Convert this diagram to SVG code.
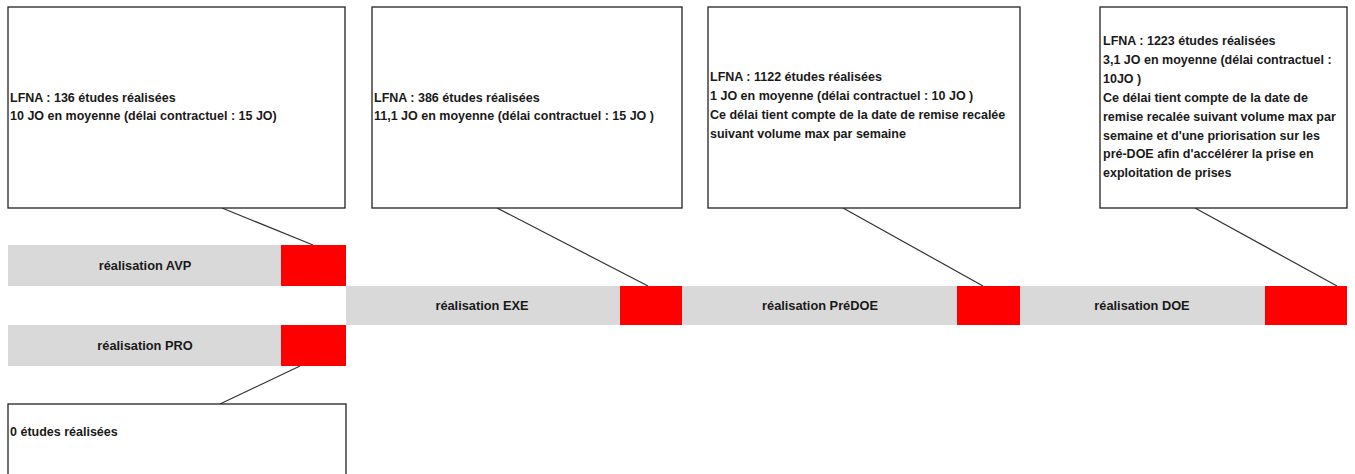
<svg xmlns="http://www.w3.org/2000/svg" width="1355" height="474" viewBox="0 0 1355 474">
<style>
.box{fill:#fff;stroke:#222;stroke-width:1.3}
.t{font-family:"Liberation Sans",Arial,sans-serif;font-size:12.5px;font-weight:bold;fill:#1a1a1a}
.bl{font-family:"Liberation Sans",Arial,sans-serif;font-size:12.8px;font-weight:bold;fill:#1a1a1a;text-anchor:middle}
.g{fill:#d9d9d9}
.r{fill:#ff0000}
.c{stroke:#333;stroke-width:1.2;fill:none}
</style>
<rect width="1355" height="474" fill="#fff"/>
<g id="connectors">
<line class="c" x1="222" y1="208" x2="313" y2="245"/>
<line class="c" x1="497" y1="208" x2="648" y2="286"/>
<line class="c" x1="843" y1="208" x2="983" y2="286"/>
<line class="c" x1="1195" y1="208" x2="1337" y2="286"/>
<line class="c" x1="300" y1="366" x2="220" y2="404"/>
</g>
<g id="bar-avp">
<rect class="g" x="8" y="245" width="273" height="41"/>
<rect class="r" x="281" y="245" width="65" height="41"/>
<text class="bl" x="145" y="270">réalisation AVP</text>
</g>
<g id="bar-exe">
<rect class="g" x="346" y="286" width="274" height="39"/>
<rect class="r" x="620" y="286" width="62" height="39"/>
<text class="bl" x="482" y="310">réalisation EXE</text>
</g>
<g id="bar-predoe">
<rect class="g" x="682" y="286" width="275" height="39"/>
<rect class="r" x="957" y="286" width="63" height="39"/>
<text class="bl" x="820" y="310">réalisation PréDOE</text>
</g>
<g id="bar-doe">
<rect class="g" x="1020" y="286" width="245" height="39"/>
<rect class="r" x="1265" y="286" width="82" height="39"/>
<text class="bl" x="1142" y="310">réalisation DOE</text>
</g>
<g id="bar-pro">
<rect class="g" x="8" y="325" width="273" height="41"/>
<rect class="r" x="281" y="325" width="65" height="41"/>
<text class="bl" x="145" y="350">réalisation PRO</text>
</g>
<g id="note-avp">
<rect class="box" x="8" y="7" width="337" height="201"/>
<text class="t" x="10" y="102">LFNA : 136 études réalisées</text>
<text class="t" x="10" y="120">10 JO en moyenne (délai contractuel : 15 JO)</text>
</g>
<g id="note-exe">
<rect class="box" x="372" y="7" width="310" height="201"/>
<text class="t" x="374" y="102">LFNA : 386 études réalisées</text>
<text class="t" x="374" y="120">11,1 JO en moyenne  (délai contractuel : 15 JO )</text>
</g>
<g id="note-predoe">
<rect class="box" x="708" y="7" width="312" height="201"/>
<text class="t" x="710" y="81">LFNA : 1122 études réalisées</text>
<text class="t" x="710" y="100">1 JO en moyenne (délai contractuel : 10 JO )</text>
<text class="t" x="710" y="119">Ce délai tient compte de la date de remise recalée</text>
<text class="t" x="710" y="138">suivant volume max par semaine</text>
</g>
<g id="note-doe">
<rect class="box" x="1100" y="7" width="247" height="201"/>
<text class="t" x="1103" y="45">LFNA : 1223 études réalisées</text>
<text class="t" x="1103" y="64">3,1 JO en moyenne (délai contractuel :</text>
<text class="t" x="1103" y="83">10JO )</text>
<text class="t" x="1103" y="102">Ce délai tient compte de la date de</text>
<text class="t" x="1103" y="121">remise recalée suivant volume max par</text>
<text class="t" x="1103" y="140">semaine  et d'une priorisation sur les</text>
<text class="t" x="1103" y="158">pré-DOE afin d'accélérer la prise en</text>
<text class="t" x="1103" y="177">exploitation de prises</text>
</g>
<g id="note-pro">
<rect class="box" x="8" y="404" width="338" height="80"/>
<text class="t" x="10" y="436">0 études réalisées</text>
</g>
</svg>
